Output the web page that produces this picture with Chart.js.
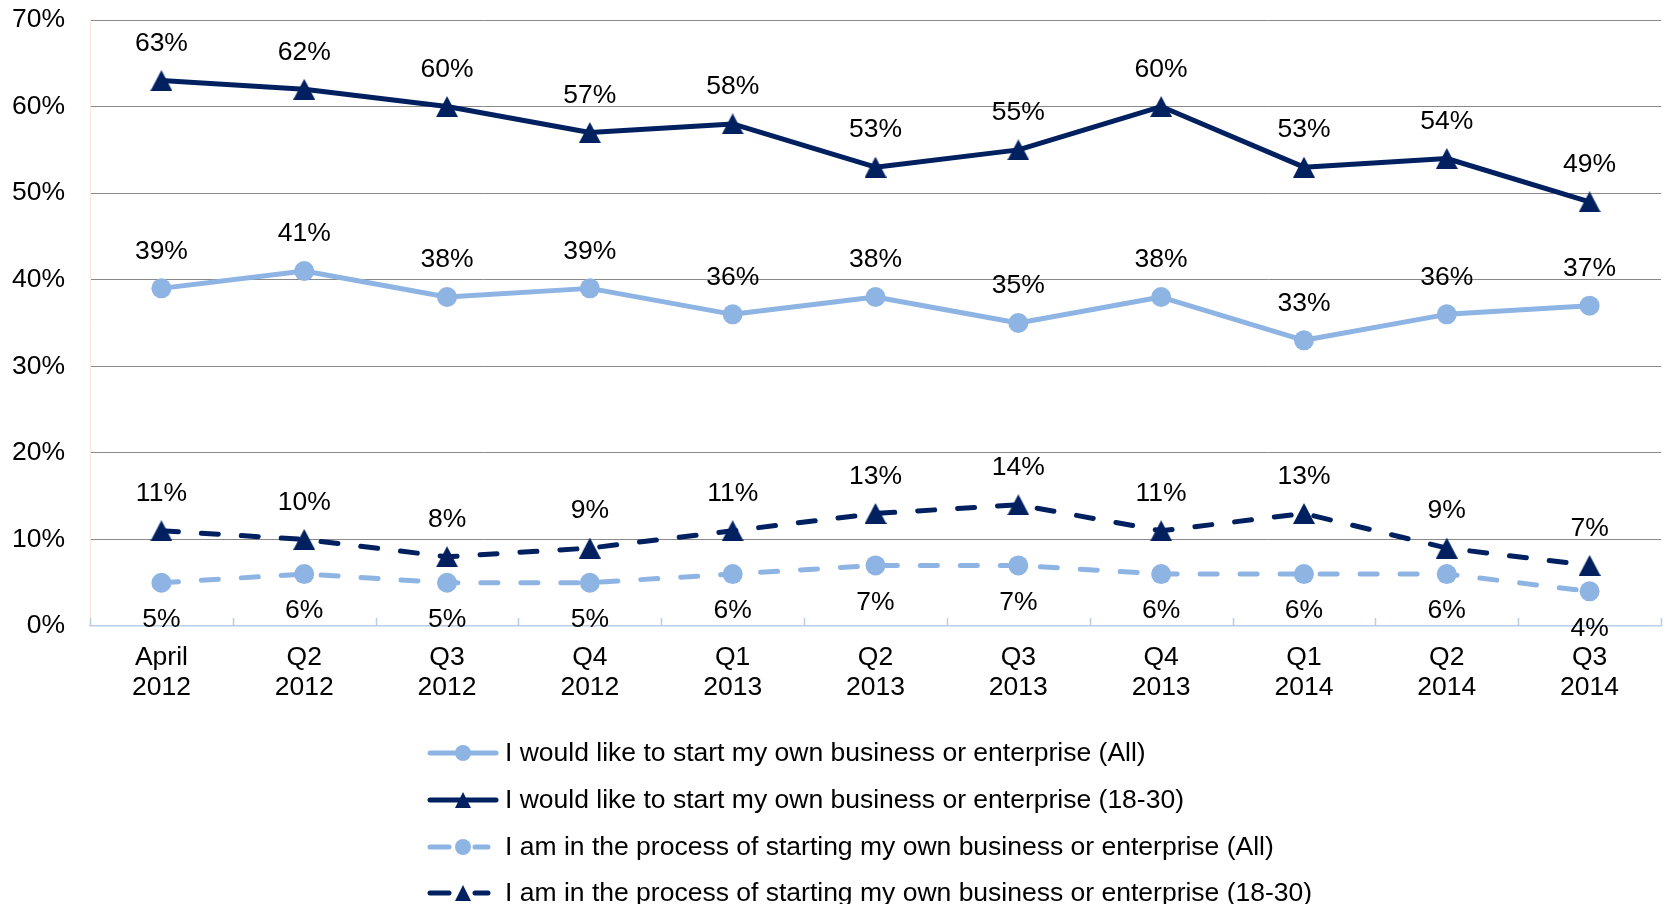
<!DOCTYPE html>
<html>
<head>
<meta charset="utf-8">
<script src="https://cdn.jsdelivr.net/npm/chart.js@4.4.1/dist/chart.umd.min.js"></script>
<style>
  html, body { margin: 0; padding: 0; background: #fff; }
  canvas { display: block; }
</style>
</head>
<body>
<canvas id="c" width="1667" height="904"></canvas>
<script>
// ---- data ----
const categories = [
  ['April', '2012'], ['Q2', '2012'], ['Q3', '2012'], ['Q4', '2012'],
  ['Q1', '2013'], ['Q2', '2013'], ['Q3', '2013'], ['Q4', '2013'],
  ['Q1', '2014'], ['Q2', '2014'], ['Q3', '2014']
];
const likeAll    = [39, 41, 38, 39, 36, 38, 35, 38, 33, 36, 37];
const like1830   = [63, 62, 60, 57, 58, 53, 55, 60, 53, 54, 49];
const processAll = [5, 6, 5, 5, 6, 7, 7, 6, 6, 6, 4];
const process1830 = [11, 10, 8, 9, 11, 13, 14, 11, 13, 9, 7];
const seriesNames = [
  'I would like to start my own business or enterprise (All)',
  'I would like to start my own business or enterprise (18-30)',
  'I am in the process of starting my own business or enterprise (All)',
  'I am in the process of starting my own business or enterprise (18-30)'
];
const yTicks = [0, 10, 20, 30, 40, 50, 60, 70];

const NAVY = '#002060';
const LIGHT = '#8EB4E3';
const FONT = '"Liberation Sans", Arial, sans-serif';
const FS = 26.5;

// triangle marker centred on its bounding box (like Office charts)
function makeTriangle(color, w, h) {
  const c = document.createElement('canvas');
  c.width = w; c.height = h;
  const g = c.getContext('2d');
  g.fillStyle = color;
  g.beginPath();
  g.moveTo(w / 2, 0);
  g.lineTo(w, h);
  g.lineTo(0, h);
  g.closePath();
  g.fill();
  return c;
}
const tri = makeTriangle(NAVY, 22, 21);

const valueLabels = {
  id: 'valueLabels',
  afterDatasetsDraw(chart) {
    const ctx = chart.ctx;
    ctx.save();
    ctx.font = FS + 'px ' + FONT;
    ctx.fillStyle = '#000';
    ctx.textAlign = 'center';
    ctx.textBaseline = 'middle';
    chart.data.datasets.forEach((ds, i) => {
      const meta = chart.getDatasetMeta(i);
      const off = ds.labelBelow ? 37 : -37;
      meta.data.forEach((pt, j) => {
        ctx.fillText(ds.data[j] + '%', pt.x, pt.y + off);
      });
    });
    ctx.restore();
  }
};

const axisTicks = {
  id: 'axisTicks',
  afterDraw(chart) {
    const x = chart.scales.x;
    const ctx = chart.ctx;
    const y0 = chart.chartArea.bottom;
    ctx.save();
    ctx.strokeStyle = '#B9CDE5';
    ctx.lineWidth = 1.5;
    for (let i = 0; i <= categories.length; i++) {
      const px = Math.round(x.getPixelForValue(i - 0.5)) + 0.5;
      ctx.beginPath();
      ctx.moveTo(px, y0);
      ctx.lineTo(px, y0 - 8);
      ctx.stroke();
    }
    ctx.restore();
  }
};

const customLegend = {
  id: 'customLegend',
  afterDraw(chart) {
    const ctx = chart.ctx;
    ctx.save();
    ctx.font = FS + 'px ' + FONT;
    ctx.textBaseline = 'middle';
    ctx.textAlign = 'left';
    const rowsY = [753, 800, 847, 893];
    chart.data.datasets.forEach((ds, i) => {
      const y = rowsY[i];
      ctx.strokeStyle = ds.borderColor;
      ctx.lineWidth = 5;
      ctx.lineCap = 'round';
      ctx.beginPath();
      if (ds.borderDash && ds.borderDash.length) {
        ctx.moveTo(430, y); ctx.lineTo(449, y);
        ctx.moveTo(475, y); ctx.lineTo(488, y);
      } else {
        ctx.moveTo(430, y); ctx.lineTo(496, y);
      }
      ctx.stroke();
      ctx.fillStyle = ds.borderColor;
      if (ds.pointStyle === 'circle') {
        ctx.beginPath();
        ctx.arc(463, y, 8, 0, Math.PI * 2);
        ctx.fill();
      } else {
        ctx.beginPath();
        ctx.moveTo(463, y - 8);
        ctx.lineTo(471, y + 8);
        ctx.lineTo(455, y + 8);
        ctx.closePath();
        ctx.fill();
      }
      ctx.fillStyle = '#000';
      ctx.fillText(ds.label, 505, y + 1);
    });
    ctx.restore();
  }
};

new Chart(document.getElementById('c'), {
  type: 'line',
  data: {
    labels: categories,
    datasets: [
      {
        label: seriesNames[0], data: likeAll,
        borderColor: LIGHT, backgroundColor: LIGHT, borderWidth: 5,
        pointStyle: 'circle', pointRadius: 10, pointBackgroundColor: LIGHT, pointBorderWidth: 0,
        tension: 0, borderCapStyle: 'round', borderJoinStyle: 'round'
      },
      {
        label: seriesNames[1], data: like1830,
        borderColor: NAVY, backgroundColor: NAVY, borderWidth: 5,
        pointStyle: tri, pointRadius: 11, pointBorderWidth: 0,
        tension: 0, borderCapStyle: 'round', borderJoinStyle: 'round'
      },
      {
        label: seriesNames[2], data: processAll, labelBelow: true,
        borderColor: LIGHT, backgroundColor: LIGHT, borderWidth: 5, borderDash: [17, 23],
        pointStyle: 'circle', pointRadius: 10, pointBackgroundColor: LIGHT, pointBorderWidth: 0,
        tension: 0, borderCapStyle: 'round', borderJoinStyle: 'round'
      },
      {
        label: seriesNames[3], data: process1830,
        borderColor: NAVY, backgroundColor: NAVY, borderWidth: 5, borderDash: [17, 23],
        pointStyle: tri, pointRadius: 11, pointBorderWidth: 0,
        tension: 0, borderCapStyle: 'round', borderJoinStyle: 'round'
      }
    ]
  },
  options: {
    responsive: false,
    animation: false,
    devicePixelRatio: 1,
    events: [],
    layout: { autoPadding: false, padding: { top: 20, right: 6, left: 0, bottom: 0 } },
    plugins: {
      legend: { display: false },
      tooltip: { enabled: false }
    },
    scales: {
      x: {
        offset: true,
        grid: { display: false, drawTicks: false },
        border: { display: true, color: '#B9CDE5', width: 1.5 },
        ticks: {
          color: '#000', padding: 16, maxRotation: 0, autoSkip: false,
          font: { family: FONT, size: FS, lineHeight: 1.15 }
        },
        afterFit: s => { s.height = 278; s.paddingLeft = 0; s.paddingRight = 0; }
      },
      y: {
        min: 0, max: 70,
        afterBuildTicks: s => { s.ticks = yTicks.map(v => ({ value: v })); },
        grid: {
          drawTicks: false,
          color: ctx => (ctx.tick && ctx.tick.value === 0) ? 'rgba(0,0,0,0)' : '#898989',
          lineWidth: 1
        },
        border: { display: true, color: '#FBE5D6', width: 1 },
        ticks: {
          color: '#000', padding: 25,
          font: { family: FONT, size: FS },
          callback: v => v + '%'
        },
        afterFit: s => { s.width = 90; s.paddingTop = 0; s.paddingBottom = 0; }
      }
    }
  },
  plugins: [valueLabels, axisTicks, customLegend]
});
</script>
</body>
</html>
